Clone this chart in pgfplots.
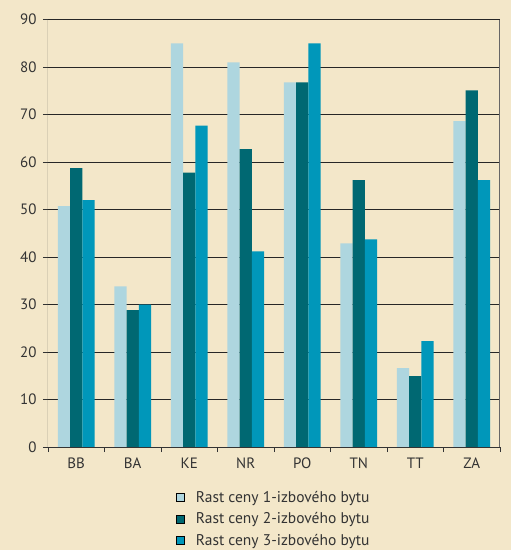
\documentclass[border=0pt]{standalone}
\usepackage{pgfplots}
\pgfplotsset{compat=1.18}
\usepackage{fontspec}
\setmainfont{PT Sans}
\definecolor{bg}{HTML}{F3E7C9}
\definecolor{cA}{HTML}{AED6DF}
\definecolor{cB}{HTML}{006872}
\definecolor{cC}{HTML}{0097BA}
\definecolor{txt}{HTML}{333333}
\begin{document}
\begin{tikzpicture}[x=1pt,y=1pt]
\useasboundingbox (0,0) rectangle (511,550);
\fill[bg] (0,0) rectangle (511,550);
\begin{axis}[
  at={(48pt,103pt)}, anchor=south west,
  scale only axis, width=452pt, height=427.4pt,
  ybar=0pt, bar width=12.3pt,
  xmin=-0.5, xmax=7.5, ymin=0, ymax=90,
  xtick={0,...,7},
  xticklabels={BB,BA,KE,NR,PO,TN,TT,ZA},
  major x tick style={draw=none},
  minor xtick={-0.5,0.5,...,7.5},
  minor x tick style={draw=txt, thick},
  ytick={0,10,...,90},
  ymajorgrids, major grid style={draw=black!85, line width=0.9pt},
  y tick style={draw=txt, thick},
  tick align=outside, major tick length=5pt, minor tick length=5pt,
  xtick pos=bottom, ytick pos=left,
  axis line style={draw=none},
  ticklabel style={font=\fontsize{15}{17}\selectfont, text=txt},
  /pgf/number format/assume math mode=true,
  xticklabel style={yshift=-2pt},
  yticklabel style={xshift=-3pt},
  legend style={at={(0.277,-0.093)}, anchor=north west, draw=none, fill=none,
    font=\fontsize{15.5}{17}\selectfont, text=txt, row sep=5pt,
    legend cell align=left},
  legend image code/.code={\draw[#1, draw=black] (0pt,-4pt) rectangle (8pt,4pt);},
  legend style={/tikz/every odd column/.append style={column sep=9pt}},
]
\addplot[fill=cA, draw=none] coordinates {(0,50.7) (1,33.8) (2,85.0) (3,81.0) (4,76.8) (5,42.9) (6,16.6) (7,68.6)};
\addplot[fill=cB, draw=none] coordinates {(0,58.7) (1,28.8) (2,57.8) (3,62.7) (4,76.8) (5,56.2) (6,14.9) (7,75.1)};
\addplot[fill=cC, draw=none] coordinates {(0,52.0) (1,30.0) (2,67.7) (3,41.2) (4,85.0) (5,43.7) (6,22.3) (7,56.2)};
\legend{Rast ceny 1-izbového bytu, Rast ceny 2-izbového bytu, Rast ceny 3-izbového bytu}
\draw[txt, line width=1pt] (rel axis cs:0,0) -- (rel axis cs:0,1);
\draw[txt, line width=1pt] (rel axis cs:0,0) -- (rel axis cs:1,0);
\draw[black!60, line width=1pt] (rel axis cs:1,0) -- (rel axis cs:1,1);
\end{axis}
\end{tikzpicture}
\end{document}
